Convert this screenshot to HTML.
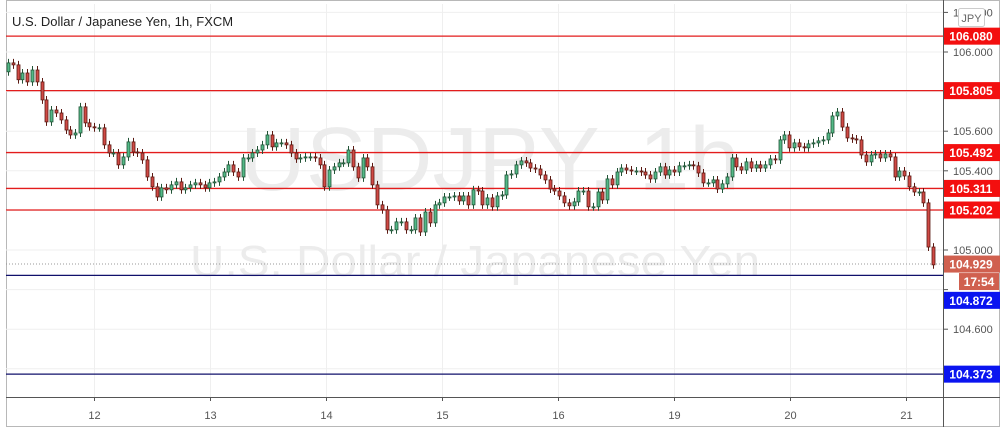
<!DOCTYPE html>
<html><head><meta charset="utf-8"><style>
html,body{margin:0;padding:0;background:#fff;width:1006px;height:428px;overflow:hidden}
svg{display:block;font-family:"Liberation Sans",Arial,sans-serif}
</style></head><body>
<svg id="c" width="1006" height="428">
<rect x="6.5" y="0.5" width="993" height="426" fill="#fff" stroke="#b8b8b8"/>
<g id="grid"></g>
<text x="240" y="190" font-size="90" fill="#ececec" textLength="500" lengthAdjust="spacingAndGlyphs">USDJPY, 1h</text>
<text x="190" y="276" font-size="44" fill="#ececec" textLength="570" lengthAdjust="spacingAndGlyphs">U.S. Dollar / Japanese Yen</text>
<g id="levels"></g>
<g id="candles"></g>
<g id="axis"></g>
<text x="12" y="26" font-size="13" fill="#222">U.S. Dollar / Japanese Yen, 1h, FXCM</text>
</svg>
<script>
const closes=[105.945,105.935,105.86,105.894,105.849,105.909,105.849,105.758,105.647,105.707,105.692,105.657,105.606,105.581,105.591,105.723,105.642,105.622,105.617,105.617,105.531,105.49,105.49,105.43,105.47,105.546,105.495,105.49,105.455,105.369,105.319,105.268,105.314,105.304,105.329,105.344,105.304,105.314,105.329,105.339,105.329,105.314,105.339,105.344,105.369,105.394,105.43,
105.394,105.369,105.465,105.465,105.49,105.505,105.531,105.581,105.521,105.541,105.541,105.531,105.49,105.46,105.465,105.47,105.47,105.465,105.43,105.319,105.404,105.42,105.44,105.44,105.505,105.42,105.364,105.465,105.42,105.329,105.228,105.203,105.102,105.102,105.142,105.142,105.102,105.102,105.162,105.091,105.192,105.137,105.228,105.238,105.268,105.268,105.273,105.248,105.273,
105.228,105.304,105.298,105.228,105.263,105.218,105.273,105.278,105.379,105.384,105.43,105.45,105.44,105.414,105.409,105.379,105.354,105.308,105.298,105.273,105.238,105.223,105.243,105.298,105.298,105.218,105.218,105.293,105.253,105.359,105.329,105.394,105.414,105.404,105.399,105.399,105.394,105.379,105.359,105.394,105.42,105.379,105.404,105.394,105.425,105.425,105.43,105.425,
105.389,105.339,105.339,105.354,105.308,105.334,105.369,105.465,105.42,105.404,105.445,105.414,105.43,105.414,105.43,105.46,105.455,105.556,105.581,105.516,105.541,105.521,105.516,105.536,105.541,105.551,105.556,105.591,105.677,105.697,105.621,105.566,105.561,105.556,105.48,105.445,105.48,105.485,105.465,105.485,105.47,105.369,105.399,105.374,105.319,105.293,105.293,105.238,105.015,104.925];
const firstOpen=105.90;
const priceTicks=[106.2,106.0,105.8,105.6,105.4,105.2,105.0,104.8,104.6,104.4];
const tickLabels=["106.200","106.000","","105.600","105.400","","105.000","","104.600",""];
const dayLabels=["12","13","14","15","16","19","20","21"];
const dayIndex=[17.9,42.1,66.3,90.5,114.7,138.9,163.1,187.3];
const redLevels=[106.080,105.805,105.492,105.311,105.202];
const blueLevels=[104.872,104.373];
const blueLabelOffset=[25,0];
const lastPrice=104.929;

const NS="http://www.w3.org/2000/svg";
function el(t,a,p){const e=document.createElementNS(NS,t);for(const k in a)e.setAttribute(k,a[k]);p.appendChild(e);return e;}
const L=6,R=943,T=4,B=397;
const y=p=>52+(106-p)*198;
const n=closes.length;
const x=i=>8+i*(933-8)/(n-1);
const grid=document.getElementById('grid'),lv=document.getElementById('levels'),cg=document.getElementById('candles'),ax=document.getElementById('axis');

priceTicks.forEach(p=>{const g=el('line',{x1:L,x2:R,y1:y(p),y2:y(p),stroke:'#efefef'},grid);

});
dayIndex.forEach(d=>{const xx=Math.round(x(d))+0.5;const g=el('line',{x1:xx,x2:xx,y1:T,y2:B,stroke:'#efefef'},grid);

});

redLevels.forEach(p=>{const l=el('line',{x1:L,x2:R,y1:y(p),y2:y(p),stroke:'#e31c1c','stroke-width':1.3},lv);

});
blueLevels.forEach(p=>{const l=el('line',{x1:L,x2:R,y1:y(p),y2:y(p),stroke:'#10106b','stroke-width':1.2},lv);

});
const dl=el('line',{x1:L,x2:R,y1:y(lastPrice),y2:y(lastPrice),stroke:'#999','stroke-dasharray':'1 2'},lv);



let prev=firstOpen;
closes.forEach((c,i)=>{
  const o=prev;prev=c;const up=c>=o;
  const hi=Math.max(o,c)+0.02,lo=Math.min(o,c)-0.02;
  const xx=Math.round(x(i))+0.5;
  const w=el('line',{x1:xx,x2:xx,y1:y(hi),y2:y(lo),stroke:up?'#225437':'#5b1a13'},cg);
  
  
  const top=y(Math.max(o,c)),h=Math.max(1,y(Math.min(o,c))-top);
  const b=el('rect',{x:xx-1.5,y:top,width:3,height:h,fill:up?'#53b987':'#d04a45',stroke:up?'#225437':'#5b1a13','stroke-width':0.8},cg);
  
  
});

const a1=el('line',{x1:R+0.5,x2:R+0.5,y1:0,y2:427,stroke:'#555'},ax);


const a2=el('line',{x1:6,x2:1000,y1:B+0.5,y2:B+0.5,stroke:'#555'},ax);


priceTicks.forEach((p,i)=>{
  const t=el('line',{x1:R,x2:R+5,y1:y(p),y2:y(p),stroke:'#555'},ax);
  
  
  if(tickLabels[i]){const tx=el('text',{x:953,y:y(p)+4,'font-size':11,fill:'#555'},ax);tx.textContent=tickLabels[i];
  
  }
});
dayLabels.forEach((d,i)=>{
  const xx=Math.round(x(dayIndex[i]))+0.5;
  const t=el('line',{x1:xx,x2:xx,y1:B,y2:B+4,stroke:'#555'},ax);
  
  
  const tx=el('text',{x:xx,y:419,'font-size':11,fill:'#555','text-anchor':'middle'},ax);tx.textContent=d;
  
  
});
function tag(p,txt,color,name,off){
  const cy=y(p)+(off||0);
  const g=el('rect',{x:R+1,y:cy-8.5,width:56,height:17,fill:color},ax);
  
  
  const t=el('text',{x:R+28,y:cy+4.5,'font-size':12,'font-weight':'bold',fill:'#fff','text-anchor':'middle'},ax);t.textContent=txt;
  
  
}
redLevels.forEach(p=>tag(p,p.toFixed(3),'#f30f0f','resistance-price-label',0));
blueLevels.forEach((p,i)=>tag(p,p.toFixed(3),'#0a14f0','support-price-label',blueLabelOffset[i]));
tag(lastPrice,lastPrice.toFixed(3),'#d0604f','last-price-label',0);
const cb=el('rect',{x:959,y:y(lastPrice)+9,width:40,height:17,fill:'#d0604f'},ax);


const ct=el('text',{x:979,y:y(lastPrice)+22,'font-size':12,'font-weight':'bold',fill:'#fff','text-anchor':'middle'},ax);ct.textContent='17:54';


const jb=el('rect',{x:958.5,y:8.5,width:26,height:18,rx:2,fill:'#fff',stroke:'#ccc'},ax);


const jt=el('text',{x:971.5,y:22,'font-size':11,fill:'#666','text-anchor':'middle'},ax);jt.textContent='JPY';


</script>
</body></html>
